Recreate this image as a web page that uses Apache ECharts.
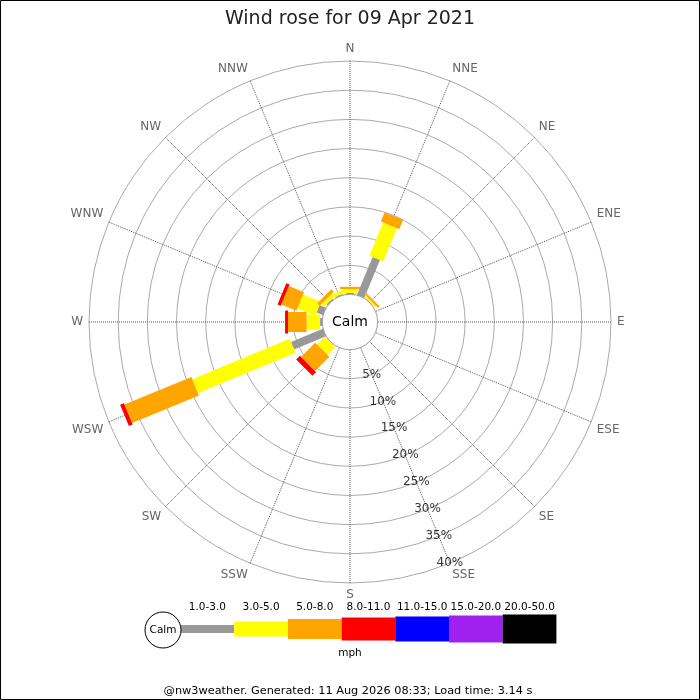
<!DOCTYPE html>
<html><head><meta charset="utf-8">
<script src="https://cdn.jsdelivr.net/npm/echarts@6/dist/echarts.min.js"></script>
<style>html,body{margin:0;padding:0;background:#fff}#c{width:700px;height:700px}</style>
</head><body><div id="c"></div>
<script>
// ---- data ----
const directions = ['N','NNE','NE','ENE','E','ESE','SE','SSE','S','SSW','SW','WSW','W','WNW','NW','NNW'];
const speedBins = ['1.0-3.0','3.0-5.0','5.0-8.0','8.0-11.0','11.0-15.0','15.0-20.0','20.0-50.0'];
// percent of time per direction, per speed bin (mph)
const pct1to3   = [0.25, 7.05, 0.10, 0, 0, 0, 0, 0, 0, 0, 0.10,  5.93, 0.40, 1.20, 0.25, 0.20];
const pct3to5   = [0.65, 6.15, 0.30, 0, 0, 0, 0, 0, 0, 0, 1.90, 18.07, 2.30, 3.30, 0.65, 0.60];
const pct5to8   = [0.40, 1.70, 0.35, 0, 0, 0, 0, 0, 0, 0, 3.45, 12.40, 3.20, 2.80, 0.60, 0];
const pct8to11  = [0,    0,    0,    0, 0, 0, 0, 0, 0, 0, 0.90,  0.70, 0.50, 0.60, 0,    0];
const pct11to15 = [0,0,0,0,0,0,0,0,0,0,0,0,0,0,0,0];
const pct15to20 = [0,0,0,0,0,0,0,0,0,0,0,0,0,0,0,0];
const pct20to50 = [0,0,0,0,0,0,0,0,0,0,0,0,0,0,0,0];
const radialTicks = [5, 10, 15, 20, 25, 30, 35, 40];
const titleText = 'Wind rose for 09 Apr 2021';
const footerText = '@nw3weather. Generated: 11 Aug 2026 08:33; Load time: 3.14 s';
const unitLabel = 'mph';
const calmLabel = 'Calm';

// ---- styling ----
const binValues = [pct1to3, pct3to5, pct5to8, pct8to11, pct11to15, pct15to20, pct20to50];
const binColors = ['#999999', '#ffff00', '#ffa500', '#ff0000', '#0000ff', '#a020f0', '#000000'];
const binThickness = [8, 15, 20, 23, 25, 27, 29];
const CX = 350, CY = 322, R0 = 27.6, R1 = 261;
const FONT = '"DejaVu Sans", sans-serif';
const labelAngle = 157.5; // radial labels drawn along SSE spoke

const chart = echarts.init(document.getElementById('c'), null, { renderer: 'canvas' });

const series = [];
const cum = directions.map(() => 0);
binValues.forEach((vals, b) => {
  const data = [];
  vals.forEach((v, d) => {
    if (v > 0) { data.push([cum[d], cum[d] + v, d * 22.5, b]); cum[d] += v; }
  });
  series.push({
    type: 'custom', name: speedBins[b], coordinateSystem: 'polar',
    encode: { radius: [0, 1], angle: 2 },
    data: data, z: 3, silent: true,
    renderItem: function (params, api) {
      const a = api.value(2), s = api.value(0), e = api.value(1), bi = api.value(3);
      const p0 = api.coord([s, a]), p1 = api.coord([e, a]);
      const q0 = api.coord([0, a]), q1 = api.coord([40, a]);
      let dx = q1[0] - q0[0], dy = q1[1] - q0[1];
      const L = Math.hypot(dx, dy); dx /= L; dy /= L;
      const h = binThickness[bi] / 2;
      const nx = -dy * h, ny = dx * h;
      return {
        type: 'polygon',
        shape: { points: [[p0[0] + nx, p0[1] + ny], [p1[0] + nx, p1[1] + ny], [p1[0] - nx, p1[1] - ny], [p0[0] - nx, p0[1] - ny]] },
        style: { fill: binColors[bi], stroke: null }
      };
    }
  });
});

series.push({
  type: 'scatter', coordinateSystem: 'polar', symbolSize: 0, silent: true, z: 5,
  data: radialTicks.map(t => [t, labelAngle]),
  label: { show: true, position: 'inside', formatter: p => p.value[0] + '%', color: '#000', fontSize: 12, fontFamily: FONT }
});

const graphics = [
  { type: 'rect', shape: { x: 0.5, y: 0.5, width: 699, height: 699 }, style: { fill: null, stroke: '#000', lineWidth: 1 }, z: 10 },
  { type: 'circle', shape: { cx: CX, cy: CY, r: R0 }, style: { fill: '#fff', stroke: '#aaa', lineWidth: 1 }, z: 1 },
  { type: 'text', x: CX, y: CY, style: { text: calmLabel, fill: '#000', font: '14px ' + FONT, textAlign: 'center', textVerticalAlign: 'middle' }, z: 10 },
  { type: 'circle', shape: { cx: 163, cy: 630, r: 18 }, style: { fill: '#fff', stroke: '#000', lineWidth: 1 }, z: 10 },
  { type: 'text', x: 163, y: 630, style: { text: calmLabel, fill: '#000', font: '10.5px ' + FONT, textAlign: 'center', textVerticalAlign: 'middle' }, z: 11 },
  { type: 'text', x: 350, y: 653, style: { text: unitLabel, fill: '#000', font: '10.5px ' + FONT, textAlign: 'center', textVerticalAlign: 'middle' }, z: 10 },
  { type: 'text', x: 348, y: 691, style: { text: footerText, fill: '#000', font: '11.3px ' + FONT, textAlign: 'center', textVerticalAlign: 'middle' }, z: 10 }
];
const LX0 = 180.5, LW = 53.7, LCY = 629;
speedBins.forEach((lab, i) => {
  const h = binThickness[i];
  graphics.push({ type: 'rect', shape: { x: LX0 + i * LW, y: LCY - h / 2, width: LW, height: h }, style: { fill: binColors[i] }, z: 9 });
  graphics.push({ type: 'text', x: LX0 + i * LW + LW / 2, y: 607, style: { text: lab, fill: '#000', font: '10.5px ' + FONT, textAlign: 'center', textVerticalAlign: 'middle' }, z: 10 });
});

chart.setOption({
  backgroundColor: '#fff',
  animation: false,
  title: { text: titleText, left: 'center', top: 5, textStyle: { fontSize: 19, fontWeight: 'normal', color: '#222', fontFamily: FONT } },
  polar: { center: [CX, CY], radius: [R0, R1] },
  angleAxis: {
    type: 'value', min: 0, max: 360, interval: 22.5, startAngle: 90, clockwise: true,
    axisLine: { show: false },
    axisTick: { show: false },
    axisLabel: { show: true, margin: 6, color: '#666', fontSize: 12, fontFamily: FONT,
      formatter: v => directions[Math.round(v / 22.5) % 16] },
    splitLine: { show: true, lineStyle: { color: '#555', width: 1, type: 'dotted' } }
  },
  radiusAxis: {
    type: 'value', min: 0, max: 40, interval: 5,
    axisLine: { show: false }, axisTick: { show: false }, axisLabel: { show: false },
    splitLine: { show: true, lineStyle: { color: '#aaa', width: 1, type: 'solid' } }
  },
  graphic: graphics,
  series: series
});
</script></body></html>
